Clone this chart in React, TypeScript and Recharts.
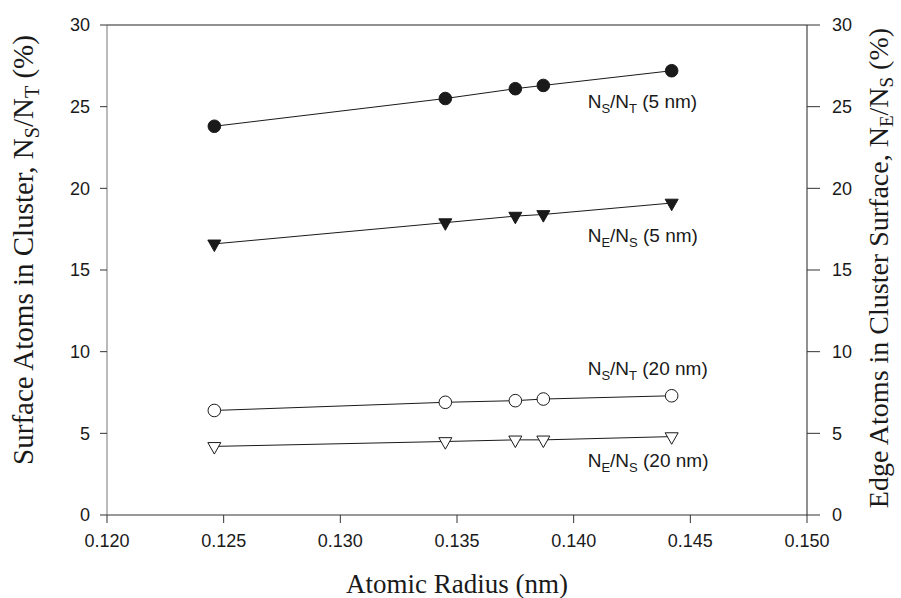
import React from "react"
import { ComposedChart, Line, XAxis, YAxis, ReferenceLine, LabelList } from "recharts"

// atomic radius (nm)
const radius = [0.1246, 0.1345, 0.1375, 0.1387, 0.1442]
// surface / total atoms (%), left axis
const nsNt5 = [23.8, 25.5, 26.1, 26.3, 27.2]
const nsNt20 = [6.4, 6.9, 7.0, 7.1, 7.3]
// edge / surface atoms (%), right axis
const neNs5 = [16.6, 17.9, 18.3, 18.4, 19.1]
const neNs20 = [4.2, 4.5, 4.6, 4.6, 4.8]

const xTicks = [0.12, 0.125, 0.13, 0.135, 0.14, 0.145, 0.15]
const yTicks = [0, 5, 10, 15, 20, 25, 30]

const data = radius.map((x, i) => ({
  x,
  s5: nsNt5[i],
  s20: nsNt20[i],
  e5: neNs5[i],
  e20: neNs20[i],
}))

const SANS = "'Liberation Sans', Arial, sans-serif"
const SERIF = "'Liberation Serif', 'Times New Roman', serif"
const INK = "#1a1a1a"

const circleDot = (filled: boolean) => (p: any) => (
  <circle
    key={`c-${p.index}`}
    cx={p.cx}
    cy={p.cy}
    r={6.3}
    fill={filled ? INK : "#fff"}
    stroke={INK}
    strokeWidth={1}
  />
)

// downward triangle, centroid on the data point
const triDot = (filled: boolean) => (p: any) => {
  const w = 6.5
  const h = 11.5
  const top = p.cy - h / 3
  const bottom = p.cy + (2 * h) / 3
  return (
    <path
      key={`t-${p.index}`}
      d={`M${p.cx - w},${top}L${p.cx + w},${top}L${p.cx},${bottom}Z`}
      fill={filled ? INK : "#fff"}
      stroke={INK}
      strokeWidth={1}
    />
  )
}

// series annotation next to the last point
const seriesTag = (sub1: string, sub2: string, size: string, dy: number) => (p: any) => {
  if (p.index !== radius.length - 1) return null
  return (
    <text x={p.x - 84} y={p.y + dy} fontFamily={SANS} fontSize={19} fill={INK}>
      <tspan>N</tspan>
      <tspan dy={5} fontSize={13}>{sub1}</tspan>
      <tspan dy={-5}>/N</tspan>
      <tspan dy={5} fontSize={13}>{sub2}</tspan>
      <tspan dy={-5}>{` (${size} nm)`}</tspan>
    </text>
  )
}

const leftTitle = () => (
  <text
    x={33}
    y={250}
    transform="rotate(-90 33 250)"
    textAnchor="middle"
    fontFamily={SERIF}
    fontSize={29}
    fill={INK}
  >
    <tspan>Surface Atoms in Cluster, N</tspan>
    <tspan dy={6} fontSize={20}>S</tspan>
    <tspan dy={-6}>/N</tspan>
    <tspan dy={6} fontSize={20}>T</tspan>
    <tspan dy={-6}> (%)</tspan>
  </text>
)

const rightTitle = () => (
  <text
    x={888}
    y={268}
    transform="rotate(-90 888 268)"
    textAnchor="middle"
    fontFamily={SERIF}
    fontSize={28}
    fill={INK}
  >
    <tspan>Edge Atoms in Cluster Surface, N</tspan>
    <tspan dy={5} fontSize={19}>E</tspan>
    <tspan dy={-5}>/N</tspan>
    <tspan dy={5} fontSize={19}>S</tspan>
    <tspan dy={-5}> (%)</tspan>
  </text>
)

const xTitle = () => (
  <text x={457} y={593} textAnchor="middle" fontFamily={SERIF} fontSize={27} fill={INK}>
    Atomic Radius (nm)
  </text>
)

const tickStyle = { fontSize: 18, fontFamily: SANS, fill: INK }

export default function App() {
  return (
    <div style={{ position: "absolute", left: 0, top: 0, background: "#fff" }}>
      <ComposedChart width={901} height={598} data={data} margin={{ top: 25, right: 0, bottom: 0, left: 0 }}>
        <XAxis
          dataKey="x"
          type="number"
          domain={[0.12, 0.15]}
          ticks={xTicks}
          allowDataOverflow
          tickFormatter={(v: number) => v.toFixed(3)}
          height={83}
          tickSize={8}
          tickMargin={11}
          tick={tickStyle}
          axisLine={{ stroke: "#333" }}
          tickLine={{ stroke: "#333" }}
          label={xTitle}
        />
        <YAxis
          yAxisId="left"
          orientation="left"
          type="number"
          domain={[0, 30]}
          ticks={yTicks}
          allowDataOverflow
          width={107}
          tickSize={7}
          tickMargin={10}
          tick={tickStyle}
          axisLine={{ stroke: "#777" }}
          tickLine={{ stroke: "#333" }}
          label={leftTitle}
        />
        <YAxis
          yAxisId="right"
          orientation="right"
          type="number"
          domain={[0, 30]}
          ticks={yTicks}
          allowDataOverflow
          width={94}
          tickSize={13}
          tickMargin={12}
          tick={tickStyle}
          axisLine={{ stroke: "#222" }}
          tickLine={{ stroke: "#333" }}
          label={rightTitle}
        />
        <ReferenceLine yAxisId="left" y={30} stroke="#222" strokeWidth={1} />
        <Line yAxisId="left" dataKey="s5" stroke={INK} strokeWidth={1} dot={circleDot(true)} isAnimationActive={false}>
          <LabelList dataKey="s5" content={seriesTag("S", "T", "5", 37)} />
        </Line>
        <Line yAxisId="right" dataKey="e5" stroke={INK} strokeWidth={1} dot={triDot(true)} isAnimationActive={false}>
          <LabelList dataKey="e5" content={seriesTag("E", "S", "5", 39)} />
        </Line>
        <Line yAxisId="left" dataKey="s20" stroke={INK} strokeWidth={1} dot={circleDot(false)} isAnimationActive={false}>
          <LabelList dataKey="s20" content={seriesTag("S", "T", "20", -21)} />
        </Line>
        <Line yAxisId="right" dataKey="e20" stroke={INK} strokeWidth={1} dot={triDot(false)} isAnimationActive={false}>
          <LabelList dataKey="e20" content={seriesTag("E", "S", "20", 30)} />
        </Line>
      </ComposedChart>
    </div>
  )
}
